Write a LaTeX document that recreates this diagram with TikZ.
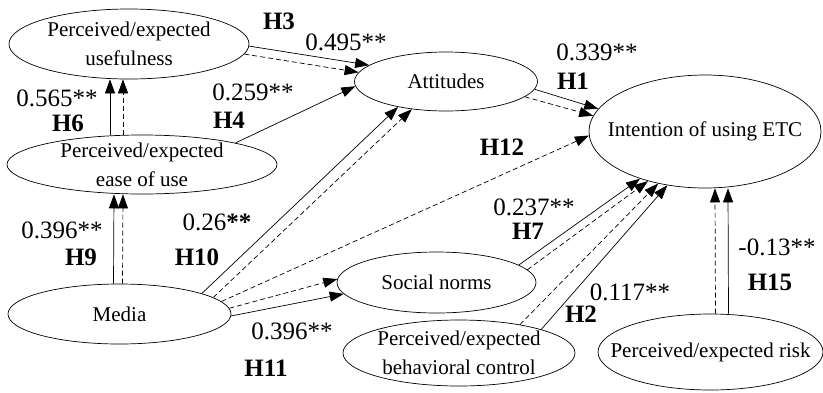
\documentclass[tikz,border=0pt]{standalone}
\usepackage{fontspec}
\setmainfont{Liberation Serif}
\usetikzlibrary{shapes.geometric,arrows.meta}

\begin{document}
\begin{tikzpicture}[x=1pt,y=-1pt,line width=0.7pt,
        >={Triangle[length=14pt,width=10pt]},
        ell/.style={draw,ellipse,inner xsep=-30pt,inner ysep=-12pt,align=center,
                font=\fontsize{21}{29}\selectfont},
        lab/.style={font=\fontsize{25}{28}\selectfont},
        hyp/.style={font=\fontsize{25}{28}\selectfont\bfseries},
        dsh/.style={dash pattern=on 5pt off 3pt}]
        \useasboundingbox (0,0) rectangle (823,392);

        \node[ell,minimum width=240pt,minimum height=70pt] (use) at (129,44) {Perceived/expected\\usefulness};
        \node[ell,minimum width=270pt,minimum height=59pt] (ease) at (142,164.5) {Perceived/expected\\ease of use};
        \node[ell,minimum width=223pt,minimum height=60pt] (media) at (119.5,314) {Media};
        \node[ell,minimum width=183pt,minimum height=59pt] (att) at (446,81.5) {Attitudes};
        \node[ell,minimum width=232pt,minimum height=113pt] (int) at (705,131.5) {Intention of using ETC};
        \node[ell,minimum width=199pt,minimum height=61pt] (soc) at (436.5,282.5) {Social norms};
        \node[ell,minimum width=232pt,minimum height=66pt] (beh) at (459,353) {Perceived/expected\\behavioral control};
        \node[ell,minimum width=225pt,minimum height=76pt] (risk) at (710.5,352) {Perceived/expected risk};

        \draw[->] (use.-1) -- (att.168);
        \draw[->,dsh] (use.-5) -- (att.174);
        \draw[->] (ease.13) -- (att.183);
        \draw[->] ([xshift=-32pt]ease.north) -- ([xshift=-19pt]use.south);
        \draw[->,dsh] ([xshift=-19pt]ease.north) -- ([xshift=-6pt]use.south);
        \draw[->] ([xshift=-6pt]media.north) -- ([xshift=-28pt]ease.south);
        \draw[->,dsh] ([xshift=3pt]media.north) -- ([xshift=-19pt]ease.south);
        \draw[->] (media.14) -- (att.208);
        \draw[->,dsh] (media.10) -- (att.219);
        \draw[->,dsh] (media.7) -- (int.182);
        \draw[->,dsh] (media.3) -- (soc.178);
        \draw[->] (media.-1) -- (soc.187);
        \draw[->] (att.-5) -- (int.168);
        \draw[->,dsh] (att.-11) -- (int.172);
        \draw[->] (soc.12) -- (int.216);
        \draw[->,dsh] (soc.8) -- (int.221);
        \draw[->,dsh] (beh.25) -- (int.228);
        \draw[->] (beh.16) -- (int.235);
        \draw[->,dsh] ([xshift=5pt]risk.north) -- ([xshift=10pt]int.south);
        \draw[->] ([xshift=18pt]risk.north) -- ([xshift=23pt]int.south);

        \node[hyp] (h3) at (279,21) {H3};
        \node[lab] (c3) at (346,42) {0.495**};
        \node[lab] (c6) at (57,98) {0.565**};
        \node[hyp] (h6) at (68,123) {H6};
        \node[lab] (c4) at (253,92) {0.259**};
        \node[hyp] (h4) at (229,120) {H4};
        \node[lab] (c1) at (597,52) {0.339**};
        \node[hyp] (h1) at (573,81) {H1};
        \node[hyp] (h12) at (502,147) {H12};
        \node[lab] (c9) at (62,230) {0.396**};
        \node[hyp] (h9) at (81,257) {H9};
        \node[lab] (c10) at (217,222) {0.26\textbf{**}};
        \node[hyp] (h10) at (197,257) {H10};
        \node[lab] (c11) at (292,331) {0.396**};
        \node[hyp] (h11) at (266,368) {H11};
        \node[lab] (c7) at (534,207) {0.237**};
        \node[hyp] (h7) at (528,231) {H7};
        \node[lab] (c2) at (630,292) {0.117**};
        \node[hyp] (h2) at (581,314) {H2};
        \node[lab] (c15) at (777,247) {-0.13**};
        \node[hyp] (h15) at (770,282) {H15};
\end{tikzpicture}
\end{document}
